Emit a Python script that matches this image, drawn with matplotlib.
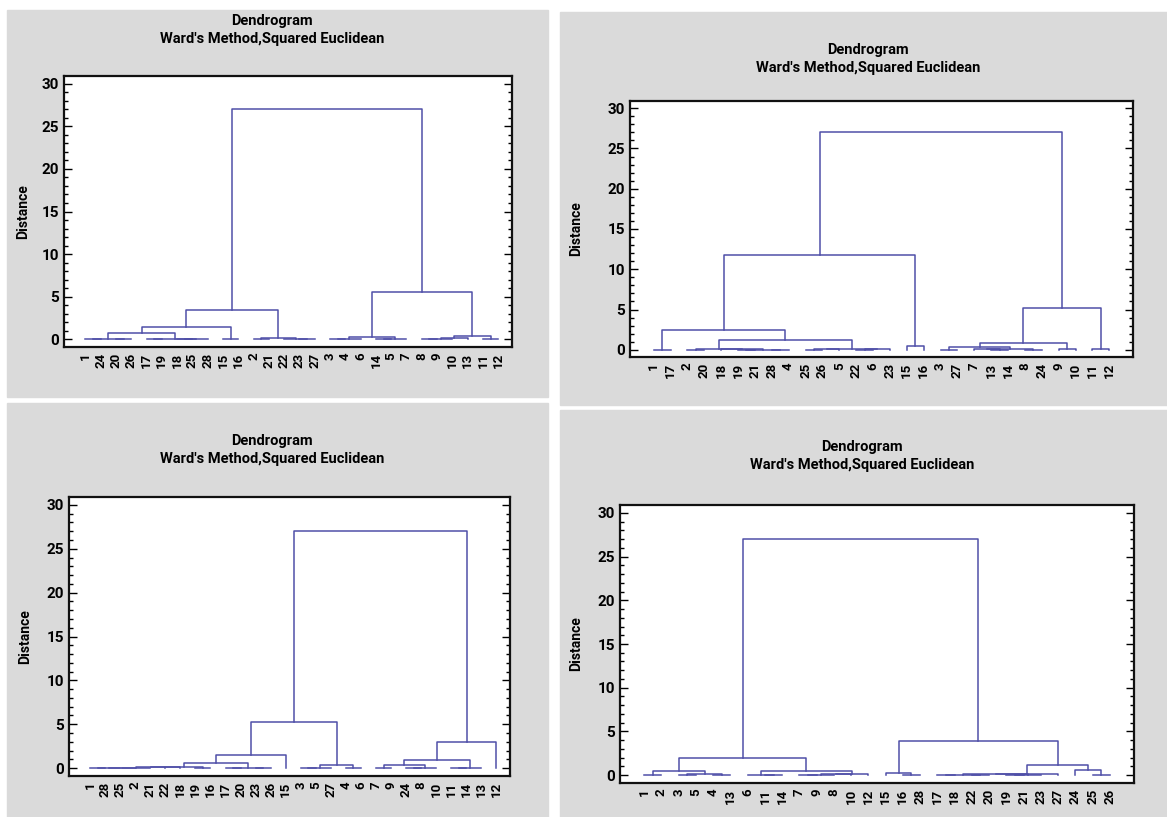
import matplotlib
matplotlib.use("Agg")
import matplotlib.pyplot as plt
from matplotlib.patches import Rectangle
from matplotlib.ticker import MultipleLocator

plt.rcParams['font.family'] = ['Roboto', 'DejaVu Sans']
plt.rcParams['font.weight'] = 'bold'

TITLE = "Dendrogram\nWard's Method,Squared Euclidean"
LINE = '#4f4fa8'
PANEL_BG = '#dadada'

# leaf order and merge tree (height, left, right) for each panel
LEAVES_1 = [1, 24, 20, 26, 17, 19, 18, 25, 28, 15, 16, 2, 21, 22, 23, 27,
            3, 4, 6, 14, 5, 7, 8, 9, 10, 13, 11, 12]
TREE_1 = (27.0,
          (3.41,
           (1.49,
            (0.70,
             (0.05, (0.02, 1, 24), (0.03, 20, 26)),
             (0.06, (0.02, 17, 19), (0.04, (0.02, 18, 25), 28))),
            (0.08, 15, 16)),
           (0.20, (0.04, 2, 21), (0.06, 22, (0.03, 23, 27)))),
          (5.56,
           (0.30, (0.06, (0.03, 3, 4), 6), (0.08, (0.04, 14, 5), 7)),
           (0.39, (0.10, (0.06, (0.03, 8, 9), 10), 13), (0.05, 11, 12))))

LEAVES_2 = [1, 17, 2, 20, 18, 19, 21, 28, 4, 25, 26, 5, 22, 6, 23, 15, 16,
            3, 27, 7, 13, 14, 8, 24, 9, 10, 11, 12]
TREE_2 = (27.0,
          (11.74,
           (2.42,
            (0.03, 1, 17),
            (1.17,
             (0.06, (0.02, 2, 20), (0.05, 18, (0.03, (0.02, 19, 21), (0.02, 28, 4)))),
             (0.13, (0.05, (0.02, 25, 26), 5), (0.06, (0.03, 22, 6), 23)))),
           (0.46, 15, 16)),
          (5.14,
           (0.84,
            (0.33, (0.03, 3, 27), (0.12, (0.07, 7, (0.03, 13, 14)), (0.03, 8, 24))),
            (0.04, 9, 10)),
           (0.04, 11, 12)))

LEAVES_3 = [1, 28, 25, 2, 21, 22, 18, 19, 16, 17, 20, 23, 26, 15, 3, 5, 27,
            4, 6, 7, 9, 24, 8, 10, 11, 14, 13, 12]
TREE_3 = (27.0,
          (5.2,
           (1.49,
            (0.57,
             (0.15,
              (0.10, (0.08, (0.06, (0.04, (0.03, (0.02, 1, 28), 25), 2), 21), 22), 18),
              (0.03, 19, 16)),
             (0.06, (0.02, 17, 20), (0.03, 23, 26))),
            15),
           (0.30, (0.05, (0.02, 3, 5), 27), (0.04, 4, 6))),
          (2.98,
           (0.92,
            (0.30, (0.03, 7, 9), (0.05, (0.02, 24, 8), 10)),
            (0.06, (0.03, 11, 14), 13)),
           12))

LEAVES_4 = [1, 2, 3, 5, 4, 13, 6, 11, 14, 7, 9, 8, 10, 12, 15, 16, 28, 17,
            18, 22, 20, 19, 21, 23, 27, 24, 25, 26]
TREE_4 = (27.0,
          (1.93,
           (0.50, (0.04, 1, 2), (0.10, (0.05, 3, 5), (0.03, 4, 13))),
           (0.46,
            (0.05, 6, (0.03, 11, 14)),
            (0.12, (0.09, (0.06, (0.03, 7, 9), 8), 10), 12))),
          (3.86,
           (0.30, 15, (0.03, 16, 28)),
           (1.19,
            (0.10,
             (0.08, (0.04, (0.02, 17, 18), (0.03, 22, 20)), (0.05, (0.03, 19, 21), 23)),
             27),
            (0.58, 24, (0.04, 25, 26)))))

W, H = 1167, 817
# panel backgrounds, axes boxes, title anchors, ylabel offsets (pixels)
PANELS = [
    (LEAVES_1, TREE_1, (7, 10, 548, 397), (64, 76, 512, 347), (272, 14), -0.076),
    (LEAVES_2, TREE_2, (560, 12, 1167, 405), (630, 101, 1133, 357), (868, 43), -0.093),
    (LEAVES_3, TREE_3, (7, 403, 548, 817), (69, 497, 510, 776), (272, 434), -0.084),
    (LEAVES_4, TREE_4, (560, 410, 1167, 817), (620, 505, 1134, 783), (862, 440), -0.072),
]


def draw_tree(ax, node, pos):
    if not isinstance(node, tuple):
        return pos[node], 0.0
    h, left, right = node
    xl, yl = draw_tree(ax, left, pos)
    xr, yr = draw_tree(ax, right, pos)
    ax.plot([xl, xl, xr, xr], [yl, h, h, yr], color=LINE, lw=1.1)
    return (xl + xr) / 2, h


fig = plt.figure(figsize=(W / 100, H / 100), dpi=100)
fig.patch.set_facecolor('white')

for leaves, tree, bg, box, tpos, ylab_x in PANELS:
    x0, y0, x1, y1 = bg
    fig.add_artist(Rectangle((x0 / W, 1 - y1 / H), (x1 - x0) / W, (y1 - y0) / H,
                             transform=fig.transFigure, color=PANEL_BG, zorder=0))
    fig.text(tpos[0] / W, 1 - tpos[1] / H, TITLE, ha='center', va='top',
             fontsize=10.5, fontweight='bold', linespacing=1.4)

    l, t, r, b = box
    ax = fig.add_axes([l / W, 1 - b / H, (r - l) / W, (b - t) / H])
    pos = {leaf: i for i, leaf in enumerate(leaves)}
    draw_tree(ax, tree, pos)

    n = len(leaves)
    ax.set_xlim(-1.4, n - 1 + (1.4 if r - l > 480 else 0.9))
    ax.set_ylim(-0.9, 30.9)
    ax.set_xticks(range(n))
    ax.set_xticklabels([str(v) for v in leaves], rotation=90, fontsize=9.5,
                       fontweight='bold')
    ax.tick_params(axis='x', length=0, pad=4)
    ax.yaxis.set_major_locator(MultipleLocator(5))
    ax.yaxis.set_minor_locator(MultipleLocator(1))
    ax.tick_params(axis='y', which='both', direction='in', left=True, right=True,
                   width=1)
    ax.tick_params(axis='y', which='major', length=6, labelsize=11)
    ax.tick_params(axis='y', which='minor', length=3)
    ax.set_ylabel('Distance', fontsize=10, fontweight='bold')
    ax.yaxis.set_label_coords(ylab_x, 0.5)
    for s in ax.spines.values():
        s.set_linewidth(1.6)
        s.set_color('#111111')

fig.savefig('out.png', dpi=100)
